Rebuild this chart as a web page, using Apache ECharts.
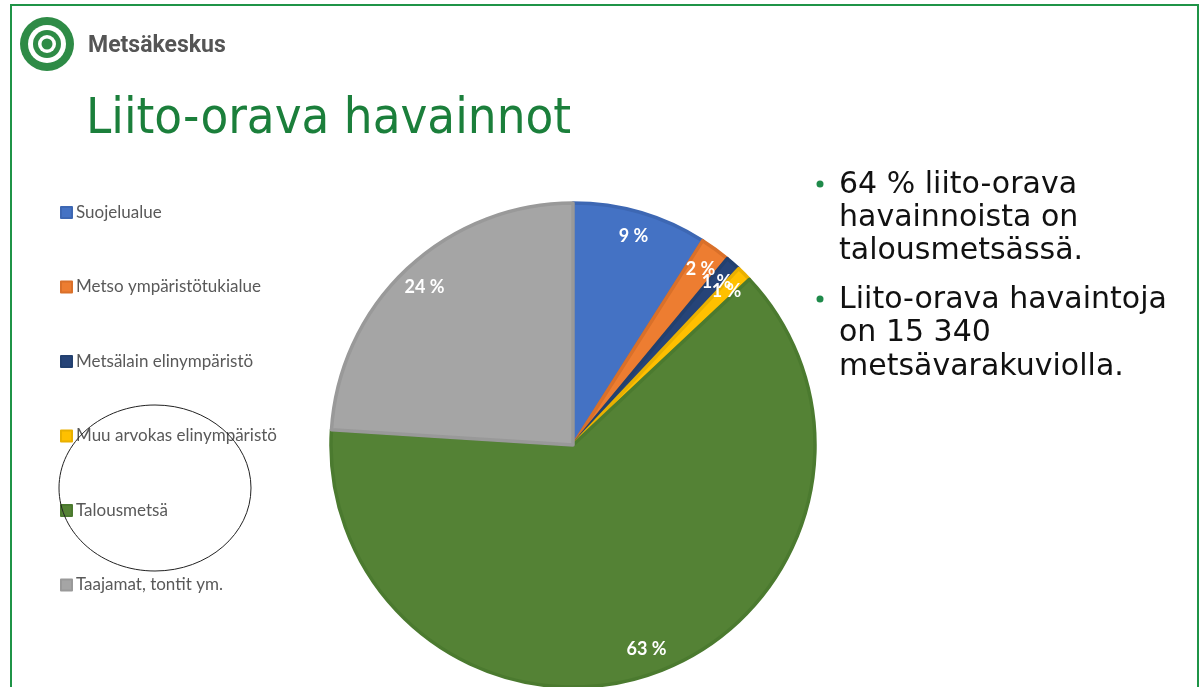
<!DOCTYPE html>
<html>
<head>
<meta charset="utf-8">
<script src="https://cdn.jsdelivr.net/npm/echarts@6/dist/echarts.min.js"></script>
<style>
  html, body { margin: 0; padding: 0; background: #fff; }
  #chart { width: 1204px; height: 687px; }
</style>
</head>
<body>
<div id="chart"></div>
<script>
// data
var categories = ['Suojelualue', 'Metso ympäristötukialue', 'Metsälain elinympäristö',
  'Muu arvokas elinympäristö', 'Talousmetsä', 'Taajamat, tontit ym.'];
var shares = [9, 2, 1, 1, 63, 24];
var fills = ['#4472C4', '#ED7D31', '#264478', '#FFC000', '#548235', '#A5A5A5'];
var edges = ['#3d67b3', '#d9702a', '#22406f', '#e9b000', '#4b7a2f', '#999999'];

var bullet1 = ['64 % liito-orava', 'havainnoista on', 'talousmetsässä.'];
var bullet2 = ['Liito-orava havaintoja', 'on 15 340', 'metsävarakuviolla.'];

var green = '#1b7f3b';

var pieData = categories.map(function (c, i) {
  return { name: c, value: shares[i], itemStyle: { color: fills[i], borderColor: edges[i] } };
});
// same slices again, only for the labels near the rim
var labelData = categories.map(function (c, i) {
  return { name: c, value: shares[i] };
});

var chart = echarts.init(document.getElementById('chart'));

var option = {
  backgroundColor: '#ffffff',
  animation: false,
  legend: {
    orient: 'vertical',
    left: 60,
    top: 204,
    padding: 0,
    itemWidth: 11,
    itemHeight: 11,
    itemGap: 57.5,
    icon: 'rect',
    data: categories,
    textStyle: {
      color: '#595959',
      fontFamily: 'Lato',
      fontSize: 17,
      padding: [0, 0, 0, -1]
    }
  },
  series: [
    {
      type: 'pie',
      center: [573, 445],
      radius: [0, 242],
      startAngle: 90,
      clockwise: true,
      silent: true,
      label: { show: false },
      labelLine: { show: false },
      itemStyle: { borderWidth: 3.5 },
      data: pieData
    },
    {
      type: 'pie',
      center: [573, 445],
      radius: [186, 242],
      startAngle: 90,
      clockwise: true,
      silent: true,
      avoidLabelOverlap: false,
      labelLayout: { hideOverlap: false },
      itemStyle: { color: 'rgba(0,0,0,0)' },
      label: {
        show: true,
        position: 'inside',
        formatter: '{c} %',
        color: '#ffffff',
        fontFamily: 'Lato',
        fontWeight: 'bold',
        fontSize: 18
      },
      labelLine: { show: false },
      data: labelData
    }
  ],
  graphic: [
    // slide frame
    { type: 'rect', shape: { x: 11, y: 5, width: 1187, height: 700 },
      style: { fill: null, stroke: '#1f9447', lineWidth: 2 } },
    // logo
    { type: 'circle', shape: { cx: 47, cy: 44, r: 27 }, style: { fill: '#2e8b46' } },
    { type: 'circle', shape: { cx: 47, cy: 44, r: 19 }, style: { fill: '#ffffff' } },
    { type: 'circle', shape: { cx: 47, cy: 44, r: 14 }, style: { fill: '#2e8b46' } },
    { type: 'circle', shape: { cx: 47, cy: 44, r: 9 }, style: { fill: '#ffffff' } },
    { type: 'circle', shape: { cx: 47, cy: 44, r: 5.5 }, style: { fill: '#2e8b46' } },
    { type: 'text', x: 88, y: 46,
      style: { text: 'Metsäkeskus', fill: '#555555', font: 'bold 23px Roboto', verticalAlign: 'middle' } },
    // title
    { type: 'text', x: 86, y: 120,
      style: { text: 'Liito-orava havainnot', fill: green, font: '50.5px "DejaVu Sans Condensed"', verticalAlign: 'middle' } },
    // bullets
    { type: 'circle', shape: { cx: 820, cy: 184, r: 3.5 }, style: { fill: '#1f8a4a' } },
    { type: 'text', x: 839, y: 169,
      style: { text: bullet1.join('\n'), fill: '#111111', font: '30px "DejaVu Sans"', lineHeight: 33, verticalAlign: 'top' } },
    { type: 'circle', shape: { cx: 820, cy: 299, r: 3.5 }, style: { fill: '#1f8a4a' } },
    { type: 'text', x: 839, y: 283,
      style: { text: bullet2.join('\n'), fill: '#111111', font: '30px "DejaVu Sans"', lineHeight: 33.5, verticalAlign: 'top' } },
    // hand-drawn ellipse round Talousmetsä
    { type: 'ellipse', shape: { cx: 155, cy: 488, rx: 96, ry: 83 },
      style: { fill: null, stroke: '#222222', lineWidth: 1 }, z: 100 }
  ]
};

chart.setOption(option);
</script>
</body>
</html>
